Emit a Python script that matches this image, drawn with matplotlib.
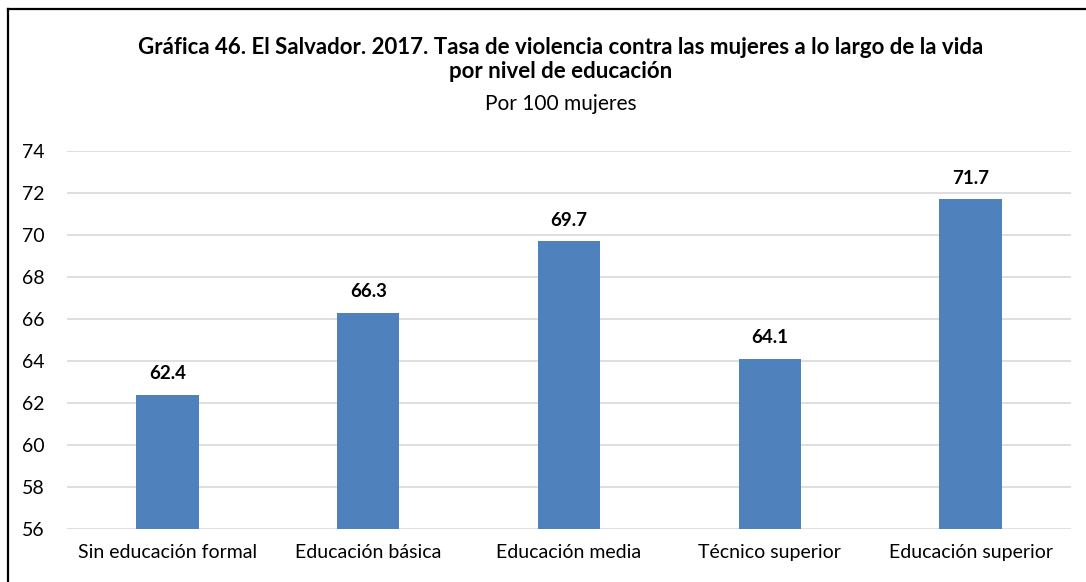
import matplotlib.pyplot as plt
from matplotlib.lines import Line2D

plt.rcParams['font.family'] = ['Lato', 'DejaVu Sans']

# Datos
categorias = ["Sin educación formal", "Educación básica", "Educación media",
              "Técnico superior", "Educación superior"]
tasas = [62.4, 66.3, 69.7, 64.1, 71.7]
yticks = [56, 58, 60, 62, 64, 66, 68, 70, 72, 74]

fig = plt.figure(figsize=(10.86, 5.82), dpi=100)
ax = fig.add_axes([67 / 1086, 1 - 529 / 582, 1004 / 1086, 378 / 582])

x = range(len(categorias))
ax.bar(x, [t - 56 for t in tasas], bottom=56, width=0.31, color='#4F81BD', zorder=3)

for xi, t in zip(x, tasas):
    ax.text(xi, t + 0.6, f"{t:.1f}", ha='center', va='bottom',
            fontsize=13.5, fontweight='bold', color='#000000')

ax.set_xlim(-0.5, len(categorias) - 0.5)
ax.set_ylim(56, 74)
ax.set_yticks(yticks)
ax.set_xticks(list(x))
ax.set_xticklabels(categorias, fontsize=14)
ax.tick_params(axis='y', labelsize=14, length=0, pad=16)
ax.tick_params(axis='x', length=0, pad=11)
ax.grid(axis='y', color='#D9D9D9', linewidth=1.2, zorder=0)
for s in ax.spines.values():
    s.set_visible(False)

fig.text(0.516, 1 - 47 / 582, "Gráfica 46. El Salvador. 2017. Tasa de violencia contra las mujeres a lo largo de la vida",
         ha='center', va='center', fontsize=16, fontweight='bold')
fig.text(0.516, 1 - 72 / 582, "por nivel de educación",
         ha='center', va='center', fontsize=16, fontweight='bold')
fig.text(0.516, 1 - 104 / 582, "Por 100 mujeres",
         ha='center', va='center', fontsize=15)

# marco
fig.add_artist(Line2D([8 / 1086, 8 / 1086], [0, 1 - 9 / 582], color='black', linewidth=1.6))
fig.add_artist(Line2D([8 / 1086, 1], [1 - 9 / 582, 1 - 9 / 582], color='black', linewidth=1.6))

fig.savefig("out.png", dpi=100)
